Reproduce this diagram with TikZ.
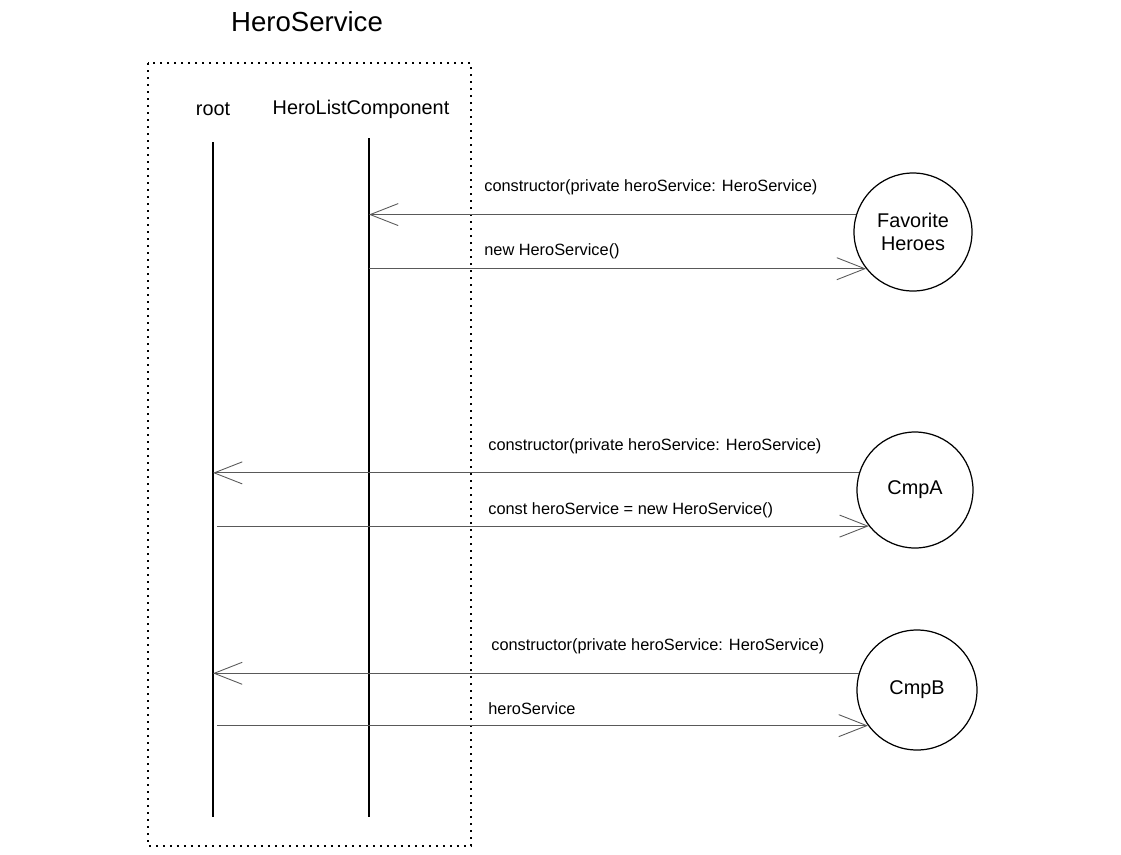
\documentclass[tikz,border=0pt]{standalone}
\usepackage{fontspec}
\setmainfont{Liberation Sans}
\usetikzlibrary{arrows.meta}
\tikzset{
	msg/.style={draw=black!65,line width=0.5pt,-{Straight Barb[length=0.56cm,width=0.44cm]}},
	msglabel/.style={anchor=west,inner sep=0pt,font=\fontsize{9.3}{11}\selectfont},
	lifename/.style={inner sep=0pt,font=\fontsize{11.3}{13}\selectfont},
	comp/.style={draw,circle,line width=0.7pt,inner sep=0pt,align=center,font=\fontsize{11.3}{13}\selectfont},
}
\begin{document}
\begin{tikzpicture}
	\useasboundingbox (0,0) rectangle (22.42,-17.08);
	\node[inner sep=0pt,font=\fontsize{15.7}{18}\selectfont] (title) at (6.14,-0.44) {HeroService};
	\draw[line width=1.1pt,dash pattern=on 0.04cm off 0.1cm] (2.96,-1.26) rectangle (9.42,-16.92);
	% lifelines
	\node[lifename] (root) at (4.26,-2.18) {root};
	\node[lifename] (hlc) at (7.22,-2.18) {HeroListComponent};
	\coordinate (rootTop) at (4.26,-2.84);
	\coordinate (rootBot) at (4.26,-16.34);
	\coordinate (hlcTop) at (7.38,-2.76);
	\coordinate (hlcBot) at (7.38,-16.34);
	\draw[line width=0.7pt] (rootTop) -- (rootBot);
	\draw[line width=0.7pt] (hlcTop) -- (hlcBot);
	% components
	\node[comp,minimum size=2.36cm] (fav) at (18.26,-4.64) {Favorite\\Heroes};
	\node[comp,minimum size=2.32cm] (cmpa) at (18.30,-9.80) {CmpA};
	\node[comp,minimum size=2.40cm] (cmpb) at (18.34,-13.80) {CmpB};
	% messages
	\draw[msg] (fav.163) -- (fav.163 -| hlcTop);
	\draw[msg] (fav.218 -| hlcTop) -- (fav.218);
	\node[msglabel] (m1) at (9.68,-3.74) {constructor(private heroService: HeroService)};
	\node[msglabel] (m2) at (9.68,-5.02) {new HeroService()};
	\draw[msg] (cmpa.163) -- (cmpa.163 -| rootTop);
	\draw[msg] ([xshift=0.08cm]cmpa.218 -| rootTop) -- (cmpa.218);
	\node[msglabel] (m3) at (9.76,-8.92) {constructor(private heroService: HeroService)};
	\node[msglabel] (m4) at (9.76,-10.20) {const heroService = new HeroService()};
	\draw[msg] (cmpb.164) -- (cmpb.164 -| rootTop);
	\draw[msg] ([xshift=0.08cm]cmpb.216 -| rootTop) -- (cmpb.216);
	\node[msglabel] (m5) at (9.82,-12.92) {constructor(private heroService: HeroService)};
	\node[msglabel] (m6) at (9.76,-14.18) {heroService};
\end{tikzpicture}
\end{document}
